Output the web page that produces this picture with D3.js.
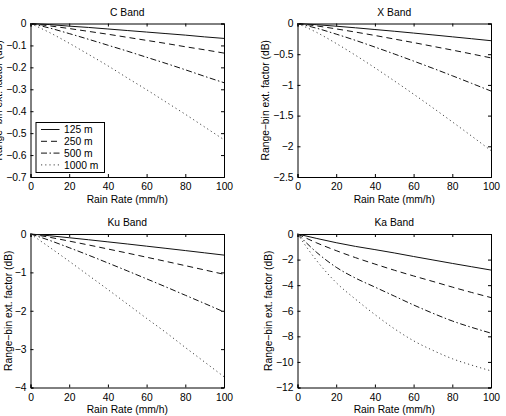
<!DOCTYPE html>
<html lang="en">
<head>
    <meta charset="UTF-8">
    <script src="https://d3js.org/d3.v7.min.js"></script>
    <title>Range-bin extinction factor</title>
    <style>
        body {
            margin: 0;
            background-color: #fff;
        }
        svg {
            display: block;
            font-family: "Liberation Sans", Arial, sans-serif;
        }
        .axis text {
            font-size: 10.3px;
            fill: #000;
        }
        .axis path, .axis line {
            stroke: #000;
        }
    </style>
</head>
<body>

    <svg id="chart" width="506" height="416"></svg>

    <script>
        // data
        const rainRate = [0, 10, 20, 30, 40, 50, 60, 70, 80, 90, 100];
        const rangeBins = ["125 m", "250 m", "500 m", "1000 m"];
        const bandNames = ["C Band", "X Band", "Ku Band", "Ka Band"];

        // one row per range bin (125, 250, 500, 1000 m), dB
        const cBand = [
            [0, -0.005, -0.012, -0.018, -0.025, -0.032, -0.039, -0.046, -0.053, -0.061, -0.068],
            [0, -0.011, -0.023, -0.036, -0.049, -0.063, -0.077, -0.091, -0.106, -0.120, -0.135],
            [0, -0.021, -0.046, -0.072, -0.099, -0.126, -0.154, -0.182, -0.211, -0.241, -0.270],
            [0, -0.042, -0.090, -0.141, -0.193, -0.248, -0.302, -0.358, -0.414, -0.472, -0.530]
        ];
        const xBand = [
            [0, -0.020, -0.044, -0.070, -0.098, -0.126, -0.156, -0.186, -0.217, -0.248, -0.280],
            [0, -0.040, -0.088, -0.140, -0.195, -0.253, -0.311, -0.372, -0.433, -0.496, -0.560],
            [0, -0.078, -0.173, -0.275, -0.384, -0.496, -0.612, -0.730, -0.851, -0.975, -1.100],
            [0, -0.147, -0.325, -0.518, -0.722, -0.934, -1.151, -1.374, -1.602, -1.834, -2.070]
        ];
        const kuBand = [
            [0, -0.046, -0.097, -0.150, -0.205, -0.260, -0.317, -0.374, -0.432, -0.491, -0.550],
            [0, -0.087, -0.185, -0.286, -0.391, -0.497, -0.605, -0.714, -0.825, -0.937, -1.050],
            [0, -0.169, -0.357, -0.552, -0.755, -0.960, -1.169, -1.380, -1.596, -1.811, -2.030],
            [0, -0.351, -0.711, -1.079, -1.447, -1.823, -2.199, -2.567, -2.957, -3.337, -3.720]
        ];
        const kaBand = [
            [0, -0.35, -0.68, -0.97, -1.22, -1.48, -1.76, -2.03, -2.30, -2.56, -2.82],
            [0, -0.70, -1.30, -1.85, -2.35, -2.83, -3.28, -3.71, -4.15, -4.57, -4.97],
            [0, -1.45, -2.60, -3.45, -4.15, -4.85, -5.55, -6.20, -6.80, -7.30, -7.75],
            [0, -2.10, -3.80, -5.10, -6.30, -7.40, -8.35, -9.10, -9.75, -10.25, -10.70]
        ];

        const xTicks = [0, 20, 40, 60, 80, 100];
        const cTicks = [0, -0.1, -0.2, -0.3, -0.4, -0.5, -0.6, -0.7];
        const xBandTicks = [0, -0.5, -1, -1.5, -2, -2.5];
        const kuTicks = [0, -1, -2, -3, -4];
        const kaTicks = [0, -2, -4, -6, -8, -10, -12];

        const svg = d3.select("#chart");

        // MATLAB line styles
        const dashes = [null, "6,4", "6,2.5,1.5,2.5", "1.2,3"];

        const panels = [
            { name: bandNames[0], values: cBand, ticks: cTicks, left: 30.5, top: 23.5, ylabX: 2, legend: true },
            { name: bandNames[1], values: xBand, ticks: xBandTicks, left: 297.5, top: 23.5, ylabX: 269 },
            { name: bandNames[2], values: kuBand, ticks: kuTicks, left: 30.5, top: 234, ylabX: 11.5 },
            { name: bandNames[3], values: kaBand, ticks: kaTicks, left: 297.5, top: 234, ylabX: 272 }
        ];
        const w = 193.5, h = 153.5;

        panels.forEach(p => {
            const g = svg.append("g").attr("transform", `translate(${p.left},${p.top})`);

            const x = d3.scaleLinear().domain([0, 100]).range([0, w]);
            const y = d3.scaleLinear().domain(d3.extent(p.ticks)).range([h, 0]);
            const fmt = d3.format("~g");

            // axes, ticks pointing inward on all four sides
            g.append("g").attr("class", "axis")
                .attr("transform", `translate(0,${h})`)
                .call(d3.axisBottom(x).tickValues(xTicks).tickFormat(fmt).tickSize(-3).tickPadding(6));
            g.append("g").attr("class", "axis")
                .call(d3.axisTop(x).tickValues(xTicks).tickFormat("").tickSize(-3));
            g.append("g").attr("class", "axis")
                .call(d3.axisLeft(y).tickValues(p.ticks).tickFormat(fmt).tickSize(-3).tickPadding(4));
            g.append("g").attr("class", "axis")
                .attr("transform", `translate(${w},0)`)
                .call(d3.axisRight(y).tickValues(p.ticks).tickFormat("").tickSize(-3));

            const line = d3.line()
                .x((d, i) => x(rainRate[i]))
                .y(d => y(d))
                .curve(d3.curveMonotoneX);

            p.values.forEach((vals, k) => {
                g.append("path")
                    .datum(vals)
                    .attr("d", line)
                    .attr("fill", "none")
                    .attr("stroke", k === 3 ? "#444" : "#111")
                    .attr("stroke-width", 1)
                    .attr("stroke-dasharray", dashes[k]);
            });

            // title and labels
            g.append("text")
                .attr("x", w / 2)
                .attr("y", -8)
                .attr("text-anchor", "middle")
                .attr("font-size", "10.3px")
                .text(p.name);

            g.append("text")
                .attr("x", w / 2)
                .attr("y", h + 25.5)
                .attr("text-anchor", "middle")
                .attr("font-size", "10.3px")
                .text("Rain Rate (mm/h)");

            svg.append("text")
                .attr("transform", `translate(${p.ylabX},${p.top + h / 2}) rotate(-90)`)
                .attr("text-anchor", "middle")
                .attr("font-size", "10.3px")
                .text("Range\u2212bin ext. factor (dB)");

            if (p.legend) {
                const lg = g.append("g").attr("transform", "translate(5.5,99)");
                lg.append("rect")
                    .attr("width", 68.5)
                    .attr("height", 50)
                    .attr("fill", "#fff")
                    .attr("stroke", "#000")
                    .attr("stroke-width", 1);
                rangeBins.forEach((r, k) => {
                    const yy = 7 + k * 11.8;
                    lg.append("line")
                        .attr("x1", 5).attr("x2", 23.5)
                        .attr("y1", yy).attr("y2", yy)
                        .attr("stroke", k === 3 ? "#444" : "#111")
                        .attr("stroke-width", 1)
                        .attr("stroke-dasharray", dashes[k]);
                    lg.append("text")
                        .attr("x", 28)
                        .attr("y", yy + 3.7)
                        .attr("font-size", "10.3px")
                        .text(r);
                });
            }
        });
    </script>

</body>
</html>
